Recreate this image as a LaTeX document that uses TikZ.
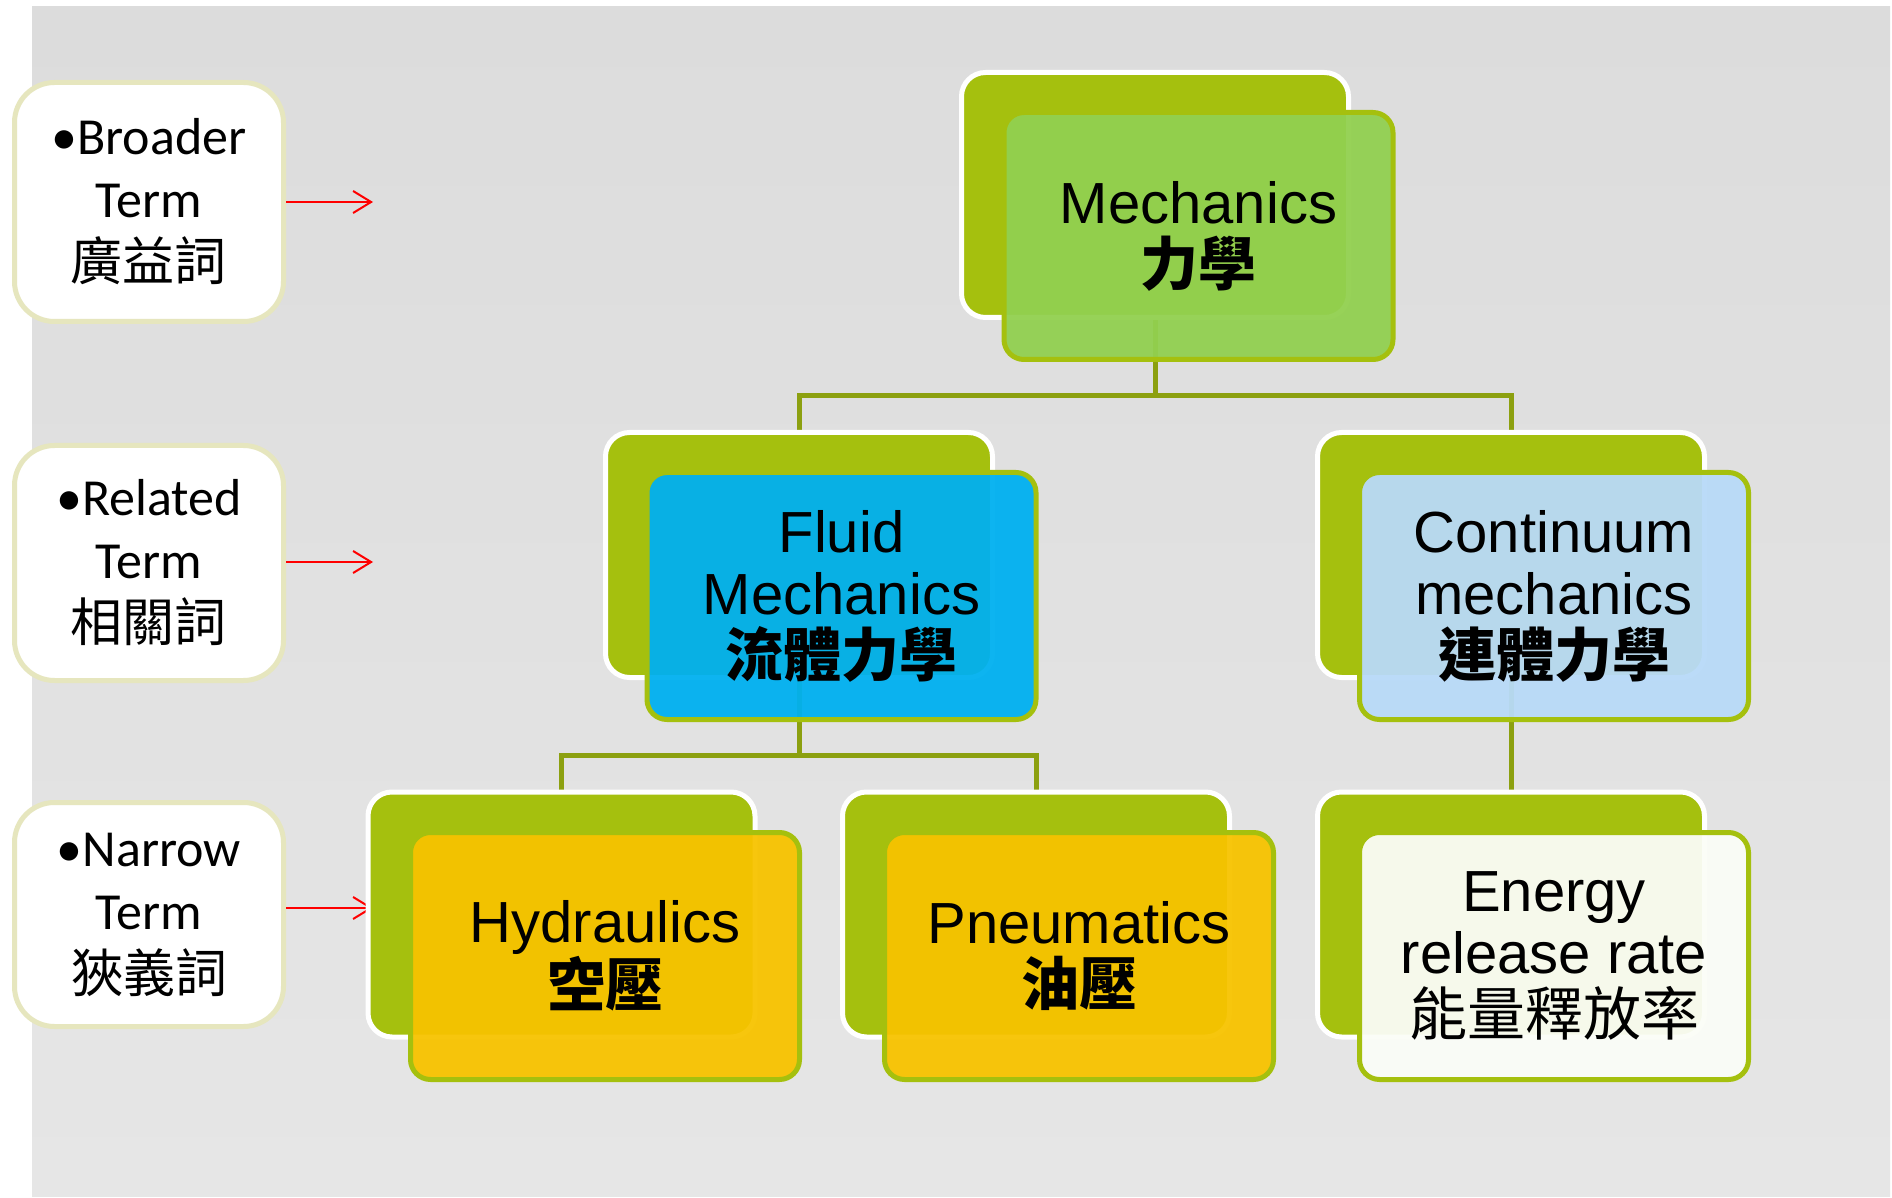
\documentclass[tikz,border=0pt]{standalone}
\usepackage{fontspec}
\setmainfont{Liberation Sans}
\newfontfamily\calfont{Carlito}
\newfontfamily\cjkfont{Noto Sans CJK TC}
\usetikzlibrary{arrows.meta}
\definecolor{olive}{RGB}{165,192,14}
\definecolor{connolive}{RGB}{140,160,16}
\definecolor{mechgreen}{RGB}{146,208,80}
\definecolor{fluidblue}{RGB}{0,176,240}
\definecolor{contblue}{RGB}{184,218,248}
\definecolor{hydyellow}{RGB}{247,195,0}
\definecolor{energywhite}{RGB}{251,253,247}
\definecolor{leftborder}{RGB}{230,230,190}
\definecolor{bgtop}{RGB}{220,220,220}
\definecolor{bgbottom}{RGB}{230,230,230}
\pgfdeclarelayer{bglayer}
\pgfdeclarelayer{connlayer}
\pgfsetlayers{bglayer,connlayer,main}
\tikzset{
  backbox/.style={draw=white, fill=olive, line width=2.5pt, rounded corners=12pt,
    minimum width=193.5pt, minimum height=122.5pt, inner sep=0pt},
  frontbox/.style={draw=olive, line width=2.5pt, rounded corners=10pt,
    fill opacity=0.95, text opacity=1, minimum width=194.5pt, minimum height=123.5pt,
    inner sep=0pt, align=center, font=\fontsize{29}{31}\selectfont},
  conn/.style={draw=connolive, line width=2.5pt},
  leftbox/.style={draw=leftborder, fill=white, line width=2.5pt, rounded corners=20pt,
    minimum width=134.5pt, inner sep=0pt, align=center,
    font=\calfont\fontsize{26}{31.5}\selectfont},
  redarrow/.style={draw=red, line width=1pt, -{Straight Barb[length=9pt,width=11pt]}},
}
\newcommand{\cjkb}[1]{{\cjkfont\bfseries #1}}
\newcommand{\cjkr}[1]{{\cjkfont #1}}
\begin{document}
\begin{tikzpicture}[x=0.5pt,y=-0.5pt]
\useasboundingbox (0,0) rectangle (1892,1198);
\begin{pgfonlayer}{bglayer}
  \fill[white] (0,0) rectangle (1892,1198);
  \shade[top color=bgtop, bottom color=bgbottom] (32,7) rectangle (1890,1196);
\end{pgfonlayer}

% left boxes
\node[leftbox, minimum height=119.5pt] (broader) at (149,202) {\textbullet Broader\\Term\\\cjkr{廣益詞}};
\node[leftbox, minimum height=117.5pt] (related) at (149,563) {\textbullet Related\\Term\\\cjkr{相關詞}};
\node[leftbox, minimum height=112pt] (narrow) at (149,914.5) {\textbullet Narrow\\Term\\\cjkr{狹義詞}};
\coordinate (broaderEnd) at (373,202);
\coordinate (relatedEnd) at (373,562);
\coordinate (narrowEnd) at (373,908);
\draw[redarrow] (broader.east |- broaderEnd) -- (broaderEnd);
\draw[redarrow] (related.east |- relatedEnd) -- (relatedEnd);
\draw[redarrow] (narrow.east |- narrowEnd) -- (narrowEnd);

% back boxes
\node[backbox] (mechB) at (1155,195) {};
\node[backbox] (fluB) at (799,555) {};
\node[backbox] (conB) at (1511,555) {};
\node[backbox] (hydB) at (561.5,914.5) {};
\node[backbox] (pneB) at (1036,914.5) {};
\node[backbox] (eneB) at (1511,914.5) {};

% front boxes
\node[frontbox, fill=mechgreen] (mechF) at (1198.5,236) {Mechanics\\\cjkb{力學}};
\node[frontbox, fill=fluidblue] (fluF) at (841.5,596) {Fluid\\Mechanics\\\cjkb{流體力學}};
\node[frontbox, fill=contblue] (conF) at (1554,596) {Continuum\\mechanics\\\cjkb{連體力學}};
\node[frontbox, fill=hydyellow] (hydF) at (605,956) {Hydraulics\\\cjkb{空壓}};
\node[frontbox, fill=hydyellow] (pneF) at (1079,956) {Pneumatics\\\cjkb{油壓}};
\node[frontbox, fill=energywhite] (eneF) at (1554,956) {Energy\\release rate\\\cjkr{能量釋放率}};

% connectors
\begin{pgfonlayer}{connlayer}
  \coordinate (bus1) at (1155,396);
  \coordinate (bus2) at (799,755);
  \draw[conn] (mechB.south) -- (bus1);
  \draw[conn] (bus1) -| (fluB.north);
  \draw[conn] (bus1) -| (conB.north);
  \draw[conn] (fluB.south) -- (bus2);
  \draw[conn] (bus2) -| (hydB.north);
  \draw[conn] (bus2) -| (pneB.north);
  \draw[conn] (conB.south) -- (eneB.north);
\end{pgfonlayer}
\end{tikzpicture}
\end{document}
